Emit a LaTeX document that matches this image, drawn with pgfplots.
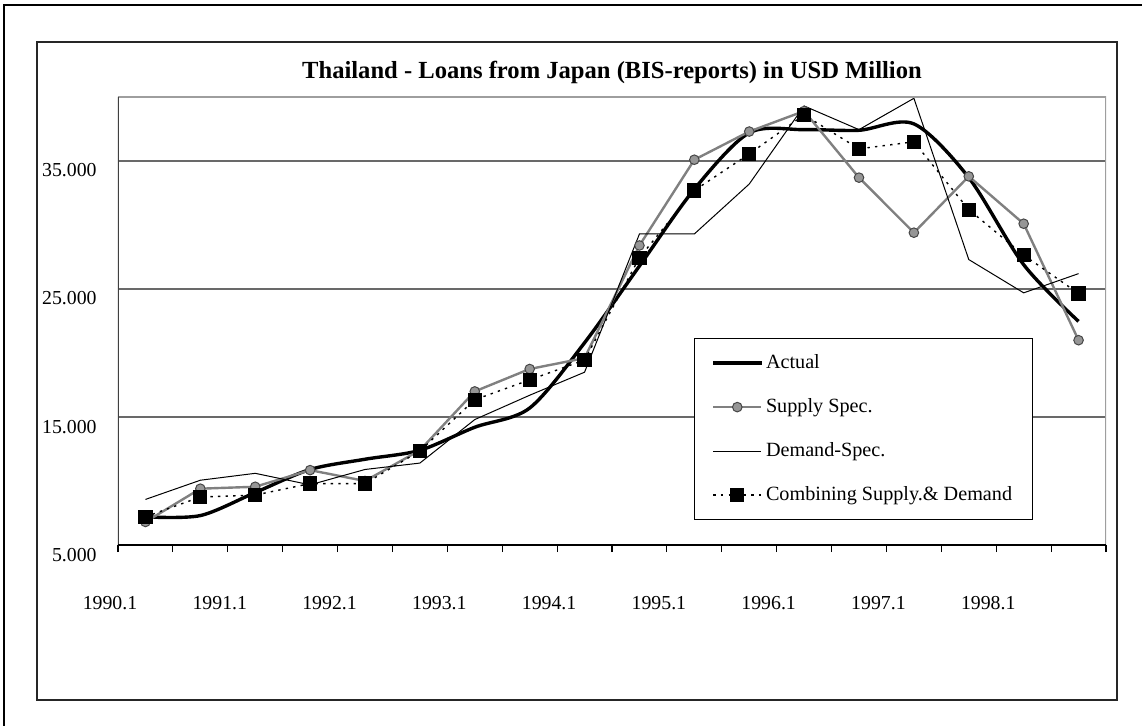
\documentclass[border=0pt]{standalone}
\usepackage{pgfplots}
\pgfplotsset{compat=1.18}
\usepackage{fontspec}
\setmainfont{Liberation Serif}

\definecolor{supplyline}{RGB}{128,128,128}
\definecolor{supplyfill}{RGB}{150,150,150}
\definecolor{supplyedge}{RGB}{70,70,70}
\definecolor{gridc}{RGB}{105,105,105}

\begin{document}
\begin{tikzpicture}
\fontsize{9.9bp}{11.8bp}\selectfont
\useasboundingbox (-59bp,-90.5bp) rectangle (512bp,272.5bp);
% outer and inner frames
\draw[line width=1bp] (-57bp,-95bp) -- (-57bp,270bp) -- (520bp,270bp);
\draw[line width=0.7bp, black!85] (-40.5bp,-77.5bp) rectangle (499.5bp,251.5bp);

\begin{axis}[
    at={(0,0)}, anchor=south west,
    scale only axis, width=494bp, height=224bp,
    xmin=-0.5, xmax=17.5, ymin=5000, ymax=40000,
    axis line style={draw=none},
    scaled y ticks=false,
    xtick={-0.5,0.5,...,17.5},
    xticklabels={1990.1,,1991.1,,1992.1,,1993.1,,1994.1,,1995.1,,1996.1,,1997.1,,1998.1,,},
    ytick={5000,15000,25000,35000},
    yticklabels={5.000,15.000,25.000,35.000},
    xtick pos=bottom, ytick pos=left,
    tick align=outside,
    major tick length=3.5bp,
    xtick style={black, line width=0.6bp},
    ytick style={draw=none},
    ymajorgrids, grid style={gridc, line width=0.6bp},
    tick label style={font=\fontsize{9.9bp}{11.8bp}\selectfont},
    xticklabel style={anchor=base, inner sep=0pt, yshift=-28.8bp, xshift=-4bp},
    yticklabel style={anchor=base east, inner sep=0pt, xshift=-7bp, yshift=-8bp},
    title={Thailand - Loans from Japan (BIS-reports) in USD Million},
    title style={font=\fontsize{12.3bp}{14bp}\selectfont\bfseries, at={(0.5,1)}, anchor=base, yshift=3.5bp, inner sep=0pt},
    legend cell align=left,
    legend image code/.code={\draw[mark repeat=2,mark phase=2,#1] plot coordinates {(0bp,0bp) (12bp,0bp) (24bp,0bp)};},
    legend style={at={(0.583,0.462)}, anchor=north west, draw=black, line width=0.6bp, fill=white,
        inner xsep=8.5bp, inner ysep=5bp, row sep=7.5bp,
        font=\fontsize{10.1bp}{12bp}\selectfont, nodes={inner xsep=1.5bp, inner ysep=3bp}},
]

% Actual (smoothed)
\addplot[black, line width=1.7bp, smooth, tension=0.5, no markers] coordinates {
    (0,7200) (1,7300) (2,9100) (3,10900) (4,11700) (5,12400)
    (6,14200) (7,15700) (8,20800) (9,26800) (10,32800) (11,37200)
    (12,37450) (13,37400) (14,37900) (15,33700) (16,26900) (17,22470)
};
\addlegendentry{Actual}

% Supply Spec.
\addplot[supplyline, line width=1.2bp, mark=*, mark size=2.4bp,
    mark options={fill=supplyfill, draw=supplyedge, line width=0.5bp}] coordinates {
    (0,6800) (1,9400) (2,9550) (3,10850) (4,10000) (5,12400)
    (6,17000) (7,18750) (8,19600) (9,28400) (10,35100) (11,37300)
    (12,38900) (13,33700) (14,29400) (15,33800) (16,30100) (17,21000)
};
\addlegendentry{Supply Spec.}

% Demand-Spec.
\addplot[black, line width=0.5bp, no markers] coordinates {
    (0,8560) (1,10060) (2,10600) (3,9700) (4,10900) (5,11400)
    (6,14800) (7,16700) (8,18500) (9,29300) (10,29300) (11,33200)
    (12,39300) (13,37450) (14,39900) (15,27300) (16,24700) (17,26200)
};
\addlegendentry{Demand-Spec.}

% Combining Supply & Demand
\addplot[black, line width=0.7bp, dash pattern=on 1.2bp off 2.6bp, mark=square*, mark size=3.2bp,
    mark options={solid, fill=black}] coordinates {
    (0,7200) (1,8750) (2,8900) (3,9800) (4,9800) (5,12350)
    (6,16350) (7,17900) (8,19450) (9,27450) (10,32700) (11,35550)
    (12,38600) (13,35950) (14,36500) (15,31200) (16,27650) (17,24650)
};
\addlegendentry{Combining Supply.\& Demand}

% plot area border
\draw[black!38, line width=0.6bp] (rel axis cs:0,1) -- (rel axis cs:1,1) -- (rel axis cs:1,0);
\draw[black!75, line width=0.6bp] (rel axis cs:0,0) -- (rel axis cs:0,1);
\draw[black, line width=0.7bp] (rel axis cs:0,0) -- (rel axis cs:1,0);
\end{axis}
\end{tikzpicture}
\end{document}
